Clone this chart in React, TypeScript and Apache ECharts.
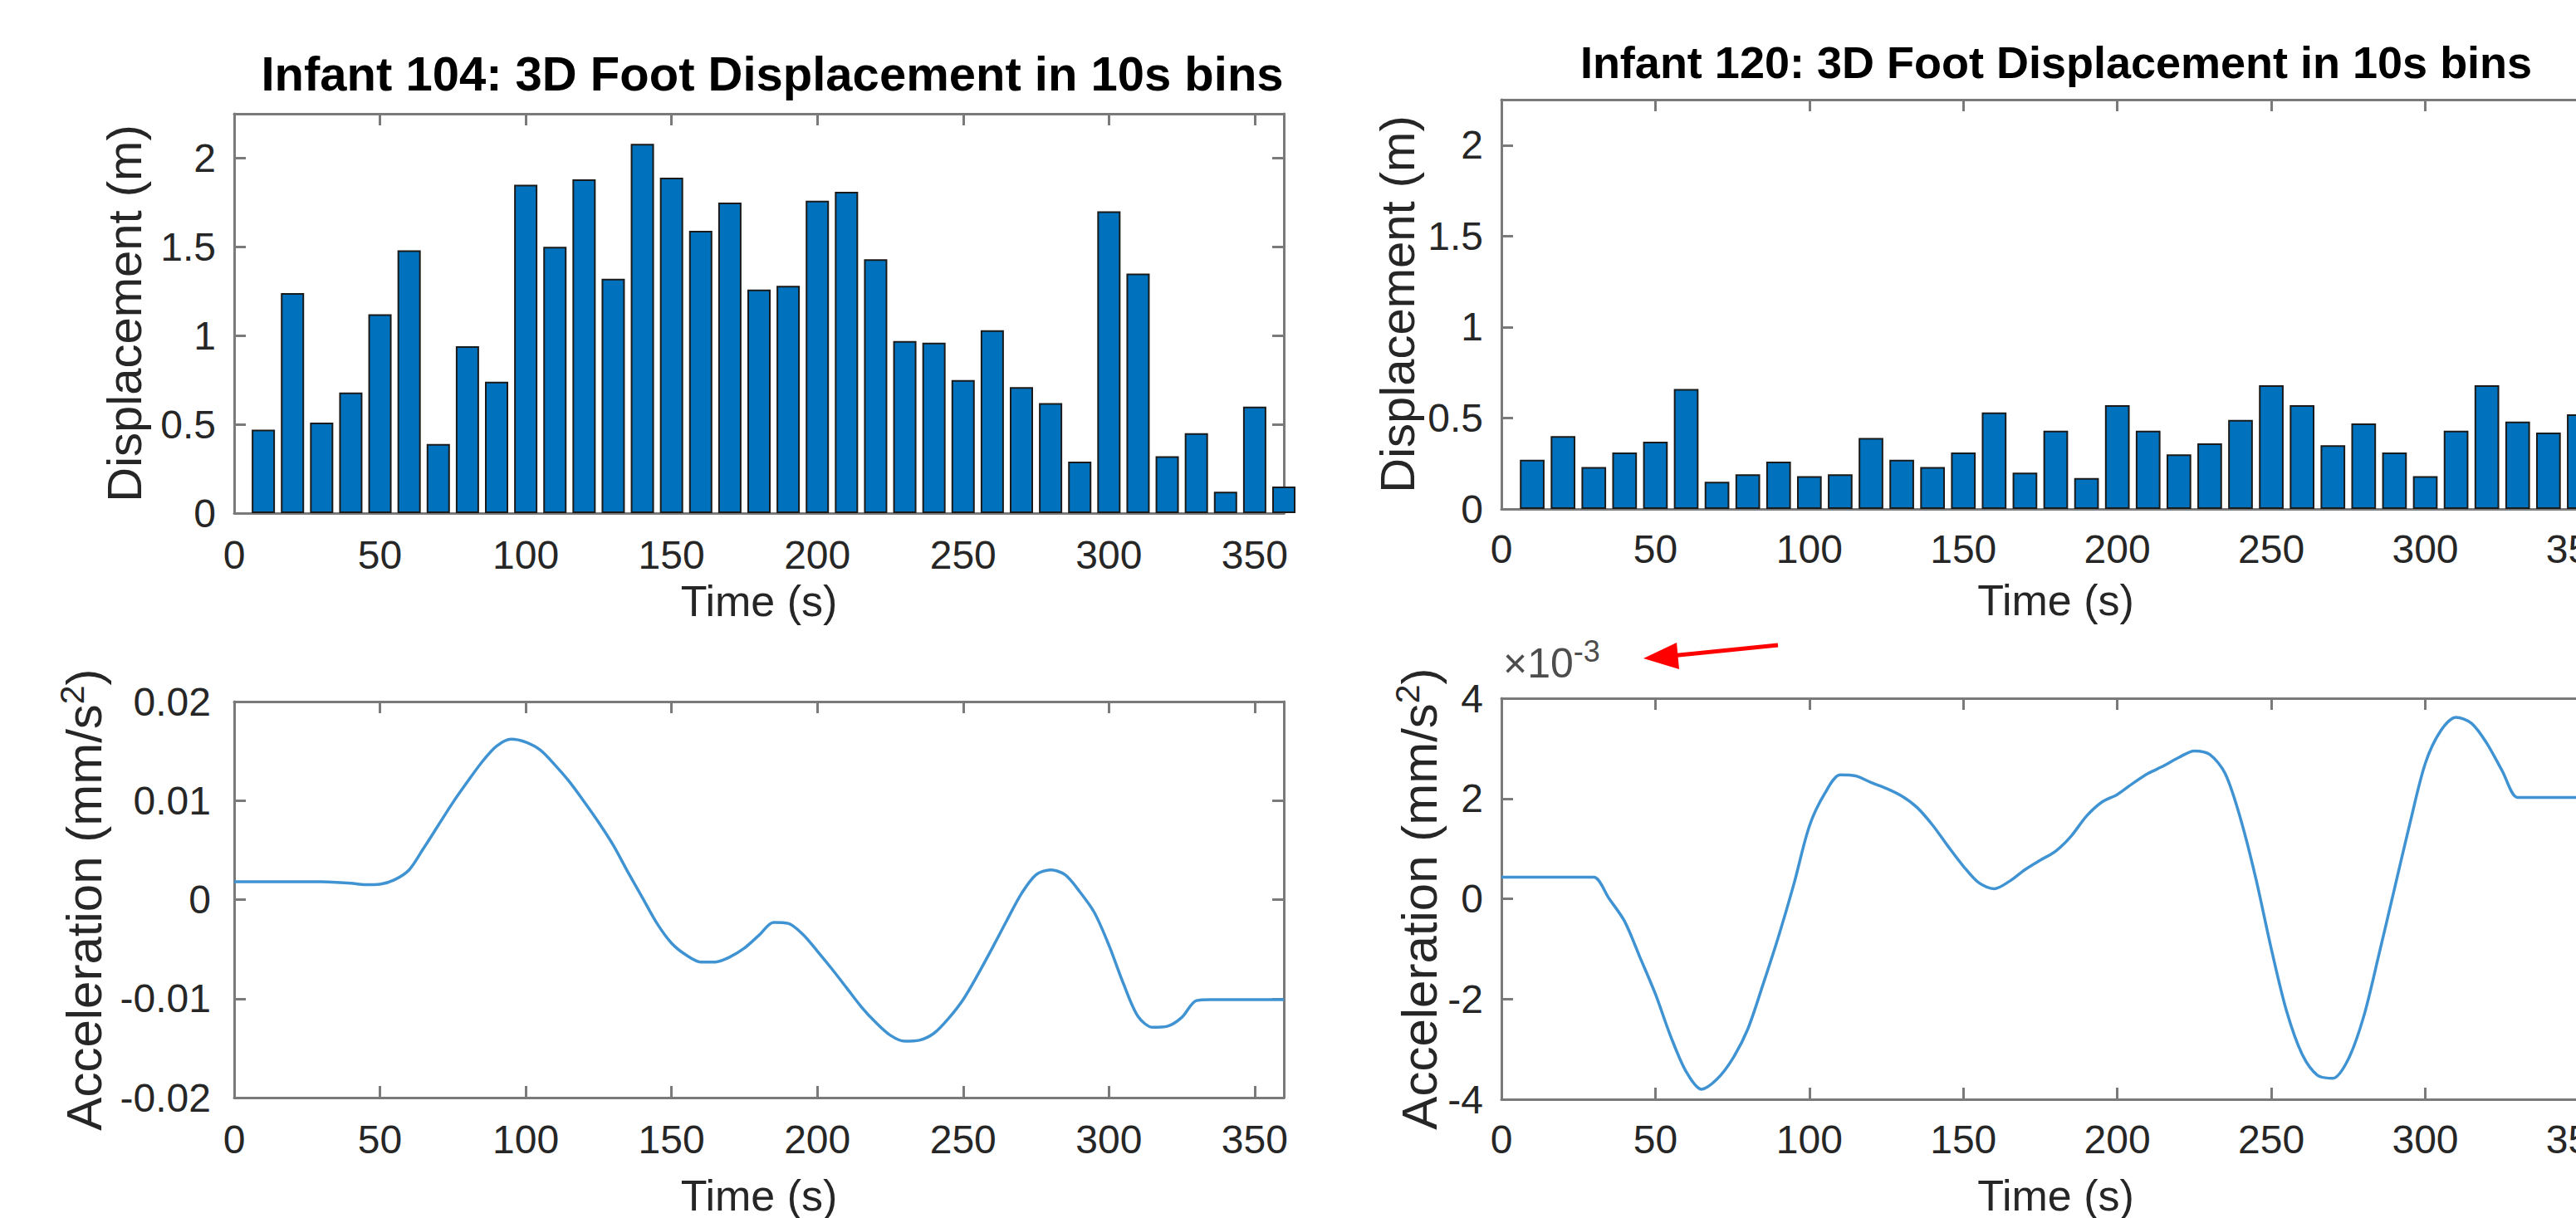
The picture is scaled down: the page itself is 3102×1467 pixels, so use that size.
import React, { useEffect, useRef } from "react";
import * as echarts from "echarts";

// ---------- data ----------
const binTimes = [10, 20, 30, 40, 50, 60, 70, 80, 90, 100, 110, 120, 130, 140, 150, 160, 170, 180, 190, 200, 210, 220, 230, 240, 250, 260, 270, 280, 290, 300, 310, 320, 330, 340, 350, 360];
// Infant 104 displacement per 10 s bin (m)
const disp104 = [0.47, 1.24, 0.51, 0.68, 1.12, 1.48, 0.39, 0.94, 0.74, 1.85, 1.5, 1.88, 1.32, 2.08, 1.89, 1.59, 1.75, 1.26, 1.28, 1.76, 1.81, 1.43, 0.97, 0.96, 0.75, 1.03, 0.71, 0.62, 0.29, 1.7, 1.35, 0.32, 0.45, 0.12, 0.6, 0.15];
// Infant 120 displacement per 10 s bin (m) - visible bins
const disp120 = [0.27, 0.4, 0.23, 0.31, 0.37, 0.66, 0.15, 0.19, 0.26, 0.18, 0.19, 0.39, 0.27, 0.23, 0.31, 0.53, 0.2, 0.43, 0.17, 0.57, 0.43, 0.3, 0.36, 0.49, 0.68, 0.57, 0.35, 0.47, 0.31, 0.18, 0.43, 0.68, 0.48, 0.42, 0.52];

const accelTimes = [0, 5, 10, 15, 20, 25, 30, 35, 40, 45, 50, 55, 60, 65, 70, 75, 80, 85, 90, 95, 100, 105, 110, 115, 120, 125, 130, 135, 140, 145, 150, 155, 160, 165, 170, 175, 180, 185, 190, 195, 200, 205, 210, 215, 220, 225, 230, 235, 240, 245, 250, 255, 260, 265, 270, 275, 280, 285, 290, 295, 300, 305, 310, 315, 320, 325, 330, 335, 340, 345, 350, 355, 360];
// Infant 104 acceleration, in units of 1e-3 mm/s^2
const accel104e3 = [1.8, 1.8, 1.8, 1.8, 1.8, 1.8, 1.8, 1.75, 1.65, 1.5, 1.55, 2.0, 3.0, 5.2, 7.5, 9.8, 11.9, 13.9, 15.5, 16.2, 15.9, 15.1, 13.6, 11.9, 9.9, 7.8, 5.5, 2.8, 0.2, -2.4, -4.4, -5.6, -6.3, -6.3, -5.8, -4.9, -3.6, -2.3, -2.4, -3.5, -5.2, -7.0, -8.9, -10.8, -12.4, -13.7, -14.3, -14.2, -13.5, -12.0, -10.1, -7.6, -4.9, -2.1, 0.6, 2.5, 3.0, 2.5, 0.8, -1.3, -4.6, -8.5, -11.8, -12.9, -12.8, -11.9, -10.2, -10.1, -10.1, -10.1, -10.1, -10.1, -10.1];
// Infant 120 acceleration, in units of 1e-3 mm/s^2 (axis shows x10^-3)
const accel120e3 = [0.43, 0.43, 0.43, 0.43, 0.43, 0.43, 0.43, 0.0, -0.45, -1.17, -1.9, -2.75, -3.45, -3.8, -3.6, -3.2, -2.6, -1.7, -0.75, 0.3, 1.45, 2.1, 2.47, 2.45, 2.32, 2.2, 2.05, 1.82, 1.47, 1.05, 0.65, 0.32, 0.2, 0.35, 0.58, 0.77, 0.95, 1.25, 1.65, 1.93, 2.08, 2.3, 2.5, 2.65, 2.82, 2.95, 2.88, 2.5, 1.6, 0.4, -1.0, -2.25, -3.1, -3.52, -3.58, -3.2, -2.35, -1.1, 0.2, 1.5, 2.7, 3.35, 3.62, 3.5, 3.1, 2.55, 2.02, 2.02, 2.02, 2.02, 2.02, 2.02, 2.02];

const titles = ["Infant 104: 3D Foot Displacement in 10s bins", "Infant 120: 3D Foot Displacement in 10s bins"];
const timeName = "Time (s)";
const dispName = "Displacement (m)";
const accelName = "Acceleration (mm/s{sup|2})";

// ---------- styling ----------
const FONT = "'Liberation Sans', Arial, Helvetica, sans-serif";
const AXIS = "#7a7a7a";
const LABEL = "#262626";
const BAR = "#0072BD";
const LINE = "#3f93d2";

export default function App() {
  const ref = useRef<HTMLDivElement>(null);

  useEffect(() => {
    if (!ref.current) return;
    const chart = echarts.init(ref.current, null, { renderer: "svg" });

    const grids = [
      { left: 282, top: 137, width: 1264, height: 481 },
      { left: 1808, top: 120, width: 1335, height: 493 },
      { left: 282, top: 845, width: 1264, height: 477 },
      { left: 1808, top: 841, width: 1335, height: 489 },
    ];

    const lineStyle = { color: AXIS, width: 3 };
    const tick = { show: true, inside: true, length: 14, lineStyle };
    const lbl = (margin: number, showMax: boolean, extra: any = {}) => ({
      show: true,
      margin,
      fontSize: 48,
      color: LABEL,
      fontFamily: FONT,
      showMaxLabel: showMax,
      showMinLabel: true,
      ...extra,
    });
    const nameStyle = (fs: number) => ({
      fontSize: fs,
      color: LABEL,
      fontFamily: FONT,
      rich: { sup: { fontSize: Math.round(fs * 0.68), color: LABEL, fontFamily: FONT, padding: [0, 0, Math.round(fs * 0.48), 0] } },
    });

    const xb = (gridIndex: number, nameGap: number, margin: number) => ({
      type: "value",
      gridIndex,
      min: 0,
      max: 360,
      interval: 50,
      position: "bottom",
      name: timeName,
      nameLocation: "middle",
      nameGap,
      nameTextStyle: nameStyle(52),
      axisLine: { show: true, onZero: false, lineStyle },
      axisTick: tick,
      axisLabel: lbl(margin, false),
      splitLine: { show: false },
    });
    const xt = (gridIndex: number) => ({
      type: "value",
      gridIndex,
      min: 0,
      max: 360,
      interval: 50,
      position: "top",
      axisLine: { show: true, onZero: false, lineStyle },
      axisTick: tick,
      axisLabel: { show: false },
      splitLine: { show: false },
    });
    const yl = (gridIndex: number, min: number, max: number, interval: number, name: string, fs: number, nameGap: number, margin: number, showMax: boolean, fmt?: any) => ({
      type: "value",
      gridIndex,
      min,
      max,
      interval,
      position: "left",
      name,
      nameLocation: "middle",
      nameGap,
      nameTextStyle: nameStyle(fs),
      axisLine: { show: true, onZero: false, lineStyle },
      axisTick: tick,
      axisLabel: lbl(margin, showMax, fmt ? { formatter: fmt } : {}),
      splitLine: { show: false },
    });
    const yr = (gridIndex: number, min: number, max: number, interval: number) => ({
      type: "value",
      gridIndex,
      min,
      max,
      interval,
      position: "right",
      axisLine: { show: true, onZero: false, lineStyle },
      axisTick: tick,
      axisLabel: { show: false },
      splitLine: { show: false },
    });

    const accelFmt = (v: number) => {
      const r = Math.round(v * 1000) / 1000;
      return String(r);
    };

    const option: any = {
      animation: false,
      backgroundColor: "#ffffff",
      textStyle: { fontFamily: FONT },
      grid: grids,
      xAxis: [xb(0, 80, 26), xb(1, 84, 24), xb(2, 92, 26), xb(3, 90, 24), xt(0), xt(1), xt(2), xt(3)],
      yAxis: [
        yl(0, 0, 2.25, 0.5, dispName, 58, 104, 22, false),
        yl(1, 0, 2.25, 0.5, dispName, 58, 97, 22, false),
        yl(2, -0.02, 0.02, 0.01, accelName, 60, 146, 28, true, accelFmt),
        yl(3, -4, 4, 2, accelName, 60, 64, 22, true),
        yr(0, 0, 2.25, 0.5),
        yr(1, 0, 2.25, 0.5),
        yr(2, -0.02, 0.02, 0.01),
        yr(3, -4, 4, 2),
      ],
      series: [
        {
          type: "bar",
          xAxisIndex: 0,
          yAxisIndex: 0,
          barWidth: 28,
          data: binTimes.map((t, i) => [t, disp104[i]]),
          itemStyle: { color: BAR, borderColor: "#1a1a1a", borderWidth: 2 },
          clip: true,
        },
        {
          type: "bar",
          xAxisIndex: 1,
          yAxisIndex: 1,
          barWidth: 29.7,
          data: disp120.map((v, i) => [binTimes[i], v]),
          itemStyle: { color: BAR, borderColor: "#1a1a1a", borderWidth: 2 },
          clip: true,
        },
        {
          type: "line",
          xAxisIndex: 2,
          yAxisIndex: 2,
          showSymbol: false,
          symbol: "none",
          smooth: 0.3,
          data: accelTimes.map((t, i) => [t, accel104e3[i] / 1000]),
          lineStyle: { color: LINE, width: 3.5 },
          clip: true,
        },
        {
          type: "line",
          xAxisIndex: 3,
          yAxisIndex: 3,
          showSymbol: false,
          symbol: "none",
          smooth: 0.3,
          data: accelTimes.map((t, i) => [t, accel120e3[i]]),
          lineStyle: { color: LINE, width: 3.5 },
          clip: true,
        },
      ],
      graphic: [
        {
          type: "text",
          x: 930,
          y: 88,
          style: {
            text: titles[0],
            fontSize: 58,
            fontWeight: "bold",
            fontFamily: FONT,
            fill: "#000000",
            textAlign: "center",
            textVerticalAlign: "middle",
          },
        },
        {
          type: "text",
          x: 2476,
          y: 75,
          style: {
            text: titles[1],
            fontSize: 54,
            fontWeight: "bold",
            fontFamily: FONT,
            fill: "#000000",
            textAlign: "center",
            textVerticalAlign: "middle",
          },
        },
        {
          type: "text",
          x: 1810,
          y: 832,
          style: {
            text: "{a|×10}{s|-3}",
            textAlign: "left",
            textVerticalAlign: "bottom",
            rich: {
              a: { fontSize: 50, fill: "#4d4d4d", fontFamily: FONT },
              s: { fontSize: 36, fill: "#4d4d4d", fontFamily: FONT, padding: [0, 0, 30, 0] },
            },
          },
        },
        {
          type: "line",
          shape: { x1: 2141, y1: 777, x2: 2012, y2: 790 },
          style: { stroke: "#ff0000", lineWidth: 5 },
        },
        {
          type: "polygon",
          shape: { points: [[1979, 793], [2022, 806], [2019, 774]] },
          style: { fill: "#ff0000" },
        },
      ],
    };

    chart.setOption(option);
    return () => chart.dispose();
  }, []);

  return (
    <div style={{ position: "fixed", left: 0, top: 0, width: 3102, height: 1467, overflow: "hidden", background: "#fff" }}>
      <div ref={ref} style={{ position: "absolute", left: 0, top: 0, width: 3250, height: 1467 }} />
    </div>
  );
}
